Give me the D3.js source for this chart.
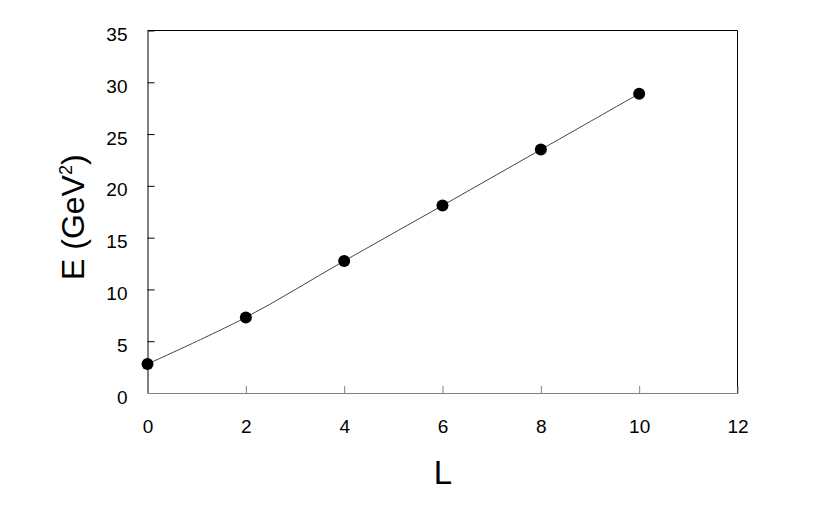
<!DOCTYPE html>
<html>
<head>
<meta charset="utf-8">
<script src="https://cdn.jsdelivr.net/npm/d3@7"></script>
<style>
  html, body { margin: 0; padding: 0; background: #fff; }
  svg { display: block; }
  text { font-family: "Liberation Sans", Arial, sans-serif; fill: #000; }
</style>
</head>
<body>
<svg id="chart" width="830" height="517"></svg>
<script>
// Data
const L_values = [0, 2, 4, 6, 8, 10];
const E_values = [2.8, 7.3, 12.75, 18.1, 23.5, 28.9];
const xTicks = [0, 2, 4, 6, 8, 10, 12];
const yTicks = [0, 5, 10, 15, 20, 25, 30, 35];

const svg = d3.select("#chart");
const pL = 147.5, pR = 737.5, pT = 30.5, pB = 393;

const x = d3.scaleLinear().domain([0, 12]).range([pL, pR]);
const y = d3.scaleLinear().domain([0, 35]).range([pB, pT]);

// plot border (top, right)
svg.append("path")
  .attr("d", `M${pL},${pT}H${pR}V${pB}`)
  .attr("fill", "none").attr("stroke", "#000").attr("stroke-width", 1);

// Y axis
const yAxis = d3.axisLeft(y).tickValues(yTicks).tickSize(-7).tickPadding(20).tickFormat(d3.format("d"));
const gy = svg.append("g").attr("transform", `translate(${pL},0)`).call(yAxis);
gy.select(".domain").attr("stroke", "#000");
gy.selectAll(".tick line").attr("stroke", "#000");
gy.selectAll(".tick text").attr("font-size", "19px").attr("dy", "0.53em")
  .style("font-family", "'Liberation Sans', Arial, sans-serif");

// X axis
const xAxis = d3.axisBottom(x).tickValues(xTicks).tickSize(-7).tickPadding(27).tickFormat(d3.format("d"));
const gx = svg.append("g").attr("transform", `translate(0,${pB})`).call(xAxis);
gx.select(".domain").attr("stroke", "#808080");
gx.selectAll(".tick line").attr("stroke", "#808080");
gx.selectAll(".tick text").attr("font-size", "19px")
  .style("font-family", "'Liberation Sans', Arial, sans-serif");
gx.selectAll(".tick line").filter(d => d === 0 || d === 12).remove();
gy.selectAll(".tick line").filter(d => d === 0 || d === 35).remove();

// Line
const pts = L_values.map((l, i) => [l, E_values[i]]);
const line = d3.line().x(d => x(d[0])).y(d => y(d[1])).curve(d3.curveCatmullRom);
svg.append("path").attr("d", line(pts))
  .attr("fill", "none").attr("stroke", "#444").attr("stroke-width", 1);

// Markers
svg.selectAll("circle.pt").data(pts).enter().append("circle")
  .attr("class", "pt")
  .attr("cx", d => x(d[0])).attr("cy", d => y(d[1])).attr("r", 6)
  .attr("fill", "#000");

// X label
svg.append("text").attr("x", 443).attr("y", 484)
  .attr("text-anchor", "middle").attr("font-size", "33px").text("L");

// Y label
const yl = svg.append("text")
  .attr("transform", "translate(84,280) rotate(-90)")
  .attr("font-size", "32px");
yl.append("tspan").text("E (GeV");
yl.append("tspan").attr("font-size", "18px").attr("dy", "-12").text("2");
yl.append("tspan").attr("dy", "12").text(")");
</script>
</body>
</html>
